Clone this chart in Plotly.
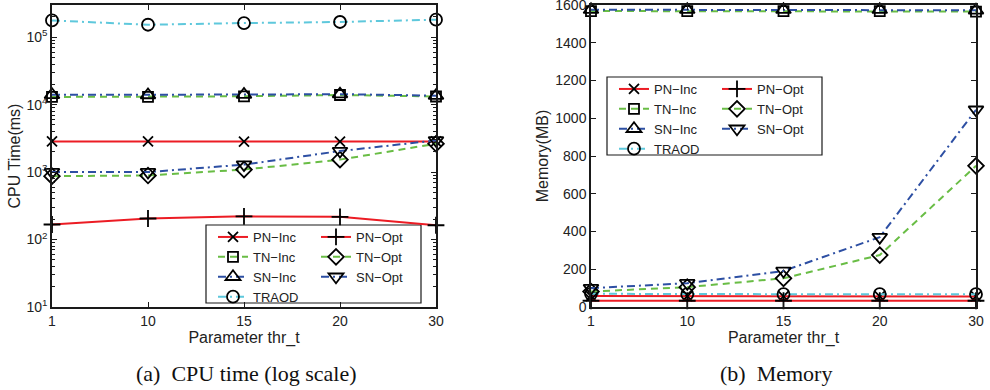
import math
import plotly.graph_objects as go
from plotly.subplots import make_subplots

# ---------------- data ----------------
thr_t = ["1", "10", "15", "20", "30"]

names = ["PN−Inc", "TN−Inc", "SN−Inc", "TRAOD", "PN−Opt", "TN−Opt", "SN−Opt"]

# CPU time (ms), log scale
cpu_pn_inc = [2850, 2860, 2830, 2820, 2850]
cpu_tn_inc = [13000, 13000, 13300, 13900, 13200]
cpu_sn_inc = [14000, 13900, 14100, 14300, 13600]
cpu_traod = [177000, 153000, 162000, 168000, 182000]
cpu_pn_opt = [167, 205, 221, 217, 163]
cpu_tn_opt = [870, 890, 1090, 1530, 2630]
cpu_sn_opt = [1000, 1000, 1290, 2050, 2950]

# Memory (MB)
mem_pn_inc = [58, 57, 56, 56, 56]
mem_tn_inc = [1568, 1568, 1568, 1568, 1565]
mem_sn_inc = [1575, 1575, 1575, 1575, 1572]
mem_traod = [70, 68, 68, 68, 68]
mem_pn_opt = [33, 33, 33, 33, 33]
mem_tn_opt = [82, 105, 152, 275, 748]
mem_sn_opt = [100, 126, 191, 370, 1045]

cpu_ticks = [10, 100, 1000, 10000, 100000]
cpu_ticktext = ["10<sup>1</sup>", "10<sup>2</sup>", "10<sup>3</sup>", "10<sup>4</sup>", "10<sup>5</sup>"]
mem_ticks = [0, 200, 400, 600, 800, 1000, 1200, 1400, 1600]

# ---------------- styles ----------------
RED, GREEN, BLUE, CYAN = "#ec1c24", "#69bd45", "#2d4fa3", "#5ec8dc"
DASHDOT = "8px,4px,2px,4px"
styles = {
    "PN−Inc": dict(color=RED, dash="solid", symbol="x-thin", size=10, group="inc"),
    "TN−Inc": dict(color=GREEN, dash="7px,5px", symbol="square-open", size=10, group="inc"),
    "SN−Inc": dict(color=BLUE, dash=DASHDOT, symbol="triangle-up-open", size=13, group="inc"),
    "TRAOD": dict(color=CYAN, dash=DASHDOT, symbol="circle-open", size=12, group="inc"),
    "PN−Opt": dict(color=RED, dash="solid", symbol="cross-thin", size=12, group="opt"),
    "TN−Opt": dict(color=GREEN, dash="7px,5px", symbol="diamond-open", size=12, group="opt"),
    "SN−Opt": dict(color=BLUE, dash=DASHDOT, symbol="triangle-down-open", size=13, group="opt"),
}

cpu = dict(zip(names, [cpu_pn_inc, cpu_tn_inc, cpu_sn_inc, cpu_traod, cpu_pn_opt, cpu_tn_opt, cpu_sn_opt]))
mem = dict(zip(names, [mem_pn_inc, mem_tn_inc, mem_sn_inc, mem_traod, mem_pn_opt, mem_tn_opt, mem_sn_opt]))

fig = make_subplots(rows=1, cols=2, horizontal_spacing=0.1677)

for col, data, leg in [(1, cpu, "legend"), (2, mem, "legend2")]:
    for n in names:
        s = styles[n]
        fig.add_trace(
            go.Scatter(
                x=thr_t, y=data[n], name=n, mode="lines+markers",
                legend=leg, legendgroup=s["group"] + leg,
                cliponaxis=False,
                line=dict(color=s["color"], width=2, dash=s["dash"]),
                marker=dict(symbol=s["symbol"], size=s["size"], color="black",
                            line=dict(color="black", width=1.8)),
            ),
            row=1, col=col,
        )

W, H = 990, 390
ML, MR, MT, MB = 52, 14, 5, 83
gw, gh = W - ML - MR, H - MT - MB

def px_x(p):
    return (p - ML) / gw

def px_y(p):
    return (H - MB - p) / gh

FONT = "Liberation Sans, Arial, sans-serif"
axis_common = dict(
    showline=True, linecolor="#1a1a1a", linewidth=1.5, mirror="ticks",
    ticks="inside", ticklen=5, tickwidth=1, tickcolor="#1a1a1a",
    showgrid=False, zeroline=False, ticklabeloverflow="allow",
    tickfont=dict(family=FONT, size=14, color="#222"),
)
title_font = dict(family=FONT, size=16, color="#222")

fig.update_xaxes(type="category", range=[0, 4], **axis_common)
fig.update_xaxes(title=dict(text="Parameter thr_t", font=title_font, standoff=2))
fig.update_layout(
    xaxis=dict(domain=[0, px_x(436)]),
    xaxis2=dict(domain=[px_x(591), 1]),
)
fig.update_yaxes(axis_common, row=1, col=1)
fig.update_yaxes(axis_common, row=1, col=2)
fig.update_yaxes(
    type="log", range=[1, math.log10(3e5)], tickmode="array",
    tickvals=cpu_ticks, ticktext=cpu_ticktext,
    minor=dict(ticks="inside", ticklen=3, tickcolor="#1a1a1a", dtick="D1", showgrid=False),
    title=dict(text="CPU Time(ms)", font=title_font, standoff=2),
    row=1, col=1,
)
fig.update_yaxes(
    range=[0, 1600], tickmode="array", tickvals=mem_ticks,
    title=dict(text="Memory(MB)", font=title_font, standoff=3),
    row=1, col=2,
)

leg_common = dict(
    orientation="h", traceorder="grouped", bgcolor="rgba(0,0,0,0)", borderwidth=0,
    font=dict(family=FONT, size=13, color="#222"), xanchor="left", yanchor="top",
    entrywidth=58, itemwidth=30,
)
fig.update_layout(
    legend=dict(leg_common, x=px_x(213), y=px_y(222)),
    legend2=dict(leg_common, x=px_x(614), y=px_y(74)),
)

# legend frames
for xr, yr, top in [("x domain", "y domain", 225), ("x2 domain", "y2 domain", 77)]:
    if xr == "x domain":
        x0, x1 = (206 - 52) / (436 - 52), (421 - 52) / (436 - 52)
    else:
        x0, x1 = (607 - 591) / (976 - 591), (822 - 591) / (976 - 591)
    fig.add_shape(type="rect", xref=xr, yref=yr, x0=x0, x1=x1,
                  y0=(307 - top) / 302, y1=(307 - top - 78) / 302,
                  line=dict(color="#1a1a1a", width=1.2), fillcolor="white", layer="below")

SERIF = "Liberation Serif, Times New Roman, serif"
fig.add_annotation(text="(a)\u00a0\u00a0CPU time (log scale)", x=px_x(246), y=px_y(373),
                   xref="paper", yref="paper", showarrow=False, xanchor="center", yanchor="middle",
                   font=dict(family=SERIF, size=22, color="#111"))
fig.add_annotation(text="(b)\u00a0\u00a0Memory", x=px_x(776), y=px_y(373),
                   xref="paper", yref="paper", showarrow=False, xanchor="center", yanchor="middle",
                   font=dict(family=SERIF, size=22, color="#111"))

fig.update_layout(
    width=W, height=H, margin=dict(l=ML, r=MR, t=MT, b=MB, autoexpand=False),
    paper_bgcolor="white", plot_bgcolor="white",
    showlegend=True,
)

fig.write_html("out.html", config={"displayModeBar": False},
               post_script="document.body.style.margin='0px';")
